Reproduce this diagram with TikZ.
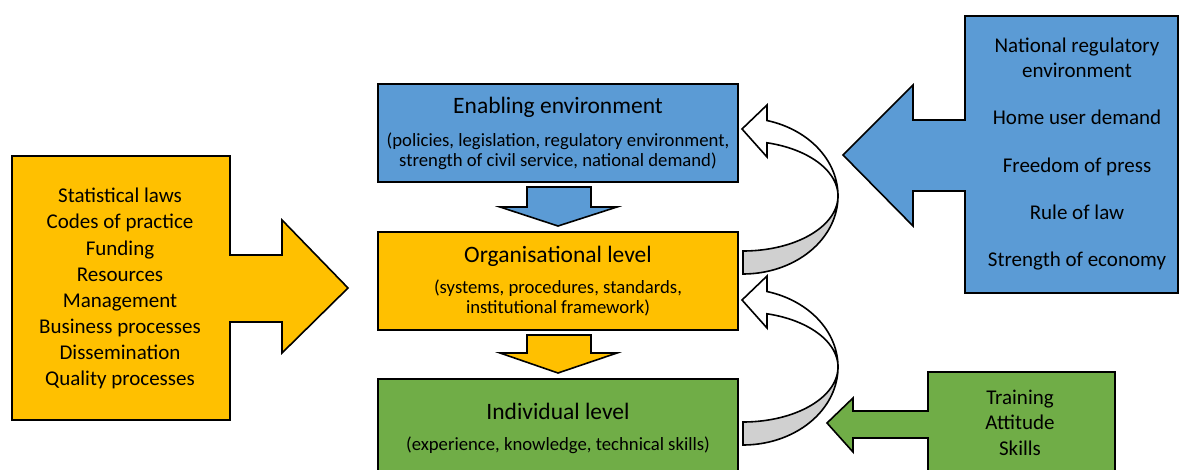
\documentclass[tikz,border=0pt]{standalone}
\usepackage{fontspec}
\setmainfont{Carlito}
\definecolor{cblue}{HTML}{5B9BD5}
\definecolor{cyel}{HTML}{FFC000}
\definecolor{cgreen}{HTML}{70AD47}
\definecolor{cgray}{HTML}{D0D0D0}
\tikzset{
  shp/.style={draw=black, line width=1.6pt, line join=miter},
  ttl/.style={font=\fontsize{23.5}{28}\selectfont, anchor=base, inner sep=0pt},
  sub/.style={font=\fontsize{18.7}{20}\selectfont, anchor=base, inner sep=0pt},
  lst/.style={font=\fontsize{21}{26}\selectfont, anchor=base, inner sep=0pt},
}
\begin{document}
\begin{tikzpicture}[x=1pt,y=-1pt]
\useasboundingbox (0,0) rectangle (1180,470);
\clip (0,0) rectangle (1180,470);
\fill[white] (0,0) rectangle (1180,470);

% central boxes
\draw[shp, fill=cblue] (378,84) rectangle (738,182);
\draw[shp, fill=cyel] (378,232) rectangle (738,330);
\draw[shp, fill=cgreen] (378,379) rectangle (738,490);

% down arrows
\draw[shp, fill=cblue] (527,187) -- (591,187) -- (591,207) -- (617,207) -- (558,226) -- (500,207) -- (527,207) -- cycle;
\draw[shp, fill=cyel] (527,335) -- (591,335) -- (591,353) -- (617,353) -- (558,373) -- (500,353) -- (527,353) -- cycle;

% left yellow arrow box
\draw[shp, fill=cyel] (12,156) -- (230,156) -- (230,255) -- (282,255) -- (282,220) -- (348,288) -- (282,353) -- (282,322) -- (230,322) -- (230,420) -- (12,420) -- cycle;

% right blue arrow box
\draw[shp, fill=cblue] (1178,16) -- (965,16) -- (965,120) -- (913,120) -- (913,85) -- (843,155) -- (913,226) -- (913,191) -- (965,191) -- (965,293) -- (1178,293) -- cycle;

% green arrow box
\draw[shp, fill=cgreen] (1115,372) -- (928,372) -- (928,411) -- (853,411) -- (853,398) -- (827,423) -- (853,452) -- (853,438) -- (928,438) -- (928,490) -- (1115,490) -- cycle;

% curved arrows
\foreach \cy in {196,367}{
  \draw[shp, fill=cgray] plot[domain=90:0, samples=40] ({743+95*cos(\x)},{\cy+78*sin(\x)})
     -- plot[domain=0:90, samples=40] ({743+95*cos(\x)},{\cy+55*sin(\x)}) -- cycle;
  \draw[shp, fill=white] plot[domain=0:-75.4, samples=40] ({743+95*cos(\x)},{\cy+78*sin(\x)})
     -- (767,\cy-91) -- (742,\cy-67) -- (767,\cy-39)
     -- plot[domain=-75.4:0, samples=40] ({743+95*cos(\x)},{\cy+55*sin(\x)}) -- cycle;
}

% texts central
\node[ttl] (et) at (558,114) {Enabling environment};
\node[sub] (e1) at (558,147) {(policies, legislation, regulatory environment,};
\node[sub] (e2) at (558,167) {strength of civil service, national demand)};
\node[ttl] (ot) at (558,262) {Organisational level};
\node[sub] (o1) at (558,293) {(systems, procedures, standards,};
\node[sub] (o2) at (558,313) {institutional framework)};
\node[ttl] (it) at (558,419) {Individual level};
\node[sub] (i1) at (558,450) {(experience, knowledge, technical skills)};

% left list
\node[lst] (l1) at (120,203) {Statistical laws};
\node[lst] (l2) at (120,229) {Codes of practice};
\node[lst] (l3) at (120,255) {Funding};
\node[lst] (l4) at (120,281) {Resources};
\node[lst] (l5) at (120,307) {Management};
\node[lst] (l6) at (120,333) {Business processes};
\node[lst] (l7) at (120,359) {Dissemination};
\node[lst] (l8) at (120,385) {Quality processes};

% right list
\node[lst] (r1) at (1077,53) {National regulatory};
\node[lst] (r1b) at (1077,78) {environment};
\node[lst] (r2) at (1077,125) {Home user demand};
\node[lst] (r3) at (1077,173) {Freedom of press};
\node[lst] (r4) at (1077,220) {Rule of law};
\node[lst] (r5) at (1077,267) {Strength of economy};

% green list
\node[lst] (g1) at (1020,404) {Training};
\node[lst] (g2) at (1020,429) {Attitude};
\node[lst] (g3) at (1020,455) {Skills};
\end{tikzpicture}
\end{document}
